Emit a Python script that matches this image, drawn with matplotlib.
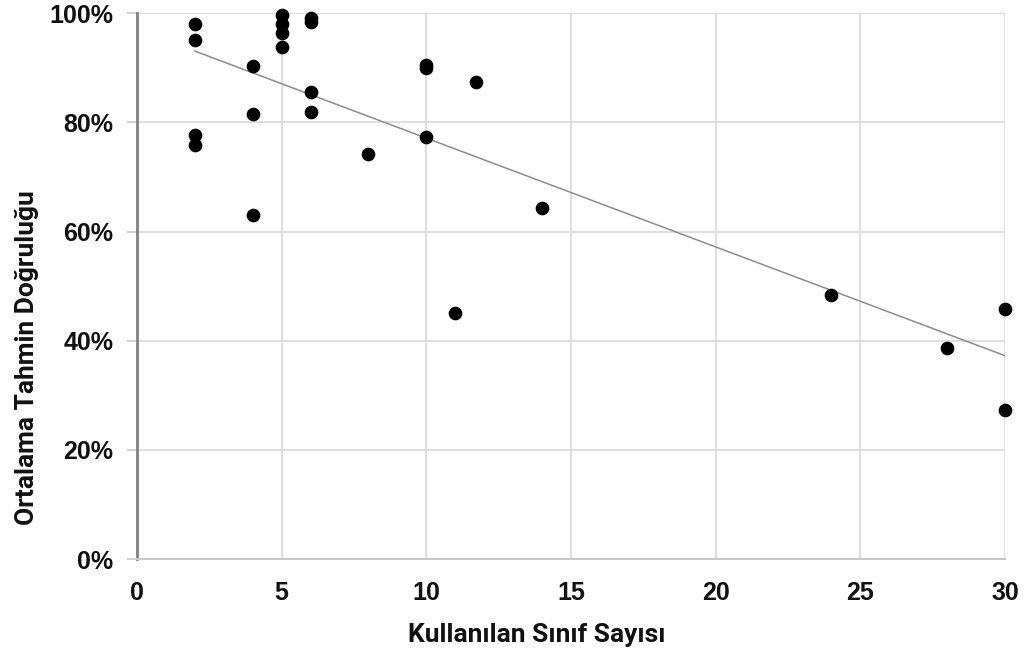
import numpy as np
import matplotlib
matplotlib.use('Agg')
import matplotlib.pyplot as plt
from matplotlib.ticker import PercentFormatter

# sınıf sayısı ve ortalama doğruluk (%)
sinif_sayisi = [2, 2, 2, 2,
                4, 4, 4,
                5, 5, 5, 5,
                6, 6, 6, 6,
                8, 10, 10, 10, 11, 11.7, 14,
                24, 28, 30, 30]
dogruluk = [98.1, 95.1, 77.7, 75.9,
            90.4, 81.6, 63.0,
            99.7, 98.1, 96.4, 93.9,
            99.2, 98.4, 85.5, 82.0,
            74.2, 90.5, 90.0, 77.3, 45.0, 87.4, 64.3,
            48.3, 38.6, 45.8, 27.4]

x_ticks = [0, 5, 10, 15, 20, 25, 30]
y_ticks = [0, 20, 40, 60, 80, 100]

fig = plt.figure(figsize=(10.27, 6.57), dpi=100)
ax = fig.add_axes([0.1334, 0.149, 0.8452, 0.8308])

ax.grid(True, color='#d9d9d9', linewidth=1.2)
ax.set_axisbelow(True)

# doğrusal eğilim çizgisi
x = np.array(sinif_sayisi)
y = np.array(dogruluk)
m, b = np.polyfit(x, y, 1)
xs = np.array([x.min(), x.max()])
ax.plot(xs, m * xs + b, color='#8c8c8c', linewidth=1.1, zorder=2)

ax.scatter(x, y, s=78, color='black', zorder=3, clip_on=False)

ax.set_xlim(0, 30)
ax.set_ylim(0, 100)
ax.set_xticks(x_ticks)
ax.set_yticks(y_ticks)
ax.yaxis.set_major_formatter(PercentFormatter(decimals=0))

for s in ['top', 'right']:
    ax.spines[s].set_visible(False)
ax.spines['left'].set_color('#808080')
ax.spines['left'].set_linewidth(2)
ax.spines['bottom'].set_color('#c8c8c8')
ax.spines['bottom'].set_linewidth(1.5)

ax.tick_params(axis='y', length=7, width=1.2, color='#c8c8c8', pad=10, labelcolor='#111111')
ax.tick_params(axis='x', length=0, pad=16, labelcolor='#111111')
for lab in ax.get_xticklabels() + ax.get_yticklabels():
    lab.set_fontfamily('Liberation Sans')
    lab.set_fontweight('bold')
    lab.set_fontsize(18)

label_font = dict(family=['Roboto', 'DejaVu Sans'], weight='bold', size=19, color='#111111')
ax.set_xlabel('Kullanılan Sınıf Sayısı', **label_font)
ax.set_ylabel('Ortalama Tahmin Doğruluğu', **label_font)
ax.xaxis.set_label_coords(0.46, -0.117)
ax.yaxis.set_label_coords(-0.113, 0.37)

fig.savefig('out.png', dpi=100)
